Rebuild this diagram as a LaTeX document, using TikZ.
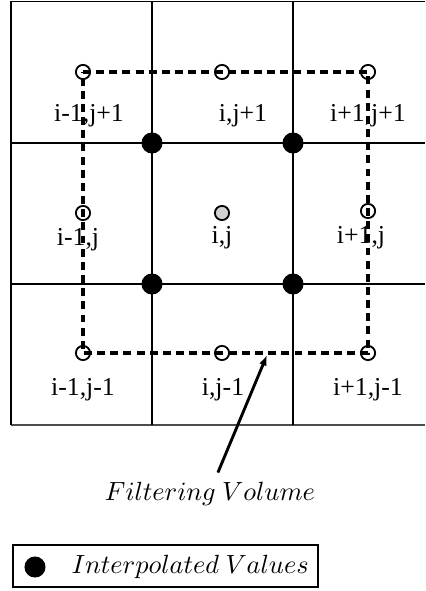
\documentclass[tikz,border=0pt]{standalone}
\usepackage{fontspec}
\setmainfont{Liberation Serif}
\usetikzlibrary{positioning,arrows.meta}

\begin{document}
\begin{tikzpicture}[
    x=0.38pt, y=-0.38pt,
    gridline/.style={line width=0.45pt},
    cellpt/.style={circle, draw, line width=0.7pt, inner sep=0pt, minimum size=5.4pt},
    interp/.style={circle, fill=black, inner sep=0pt, minimum size=8pt},
    lbl/.style={font=\fontsize{9.8}{11}\selectfont, inner sep=0pt},
    filterbox/.style={line width=1.3pt, dash pattern=on 3pt off 2pt},
    legendbox/.style={draw, line width=0.9pt, minimum width=116pt, minimum height=16pt, inner sep=0pt},
    arrow/.style={-{Latex[length=4pt, width=3pt]}, line width=1.1pt}
]
\useasboundingbox (0,0) rectangle (425,591);

% grid
\draw[gridline] (11,1.5) -- (425,1.5);
\draw[gridline] (11,143) -- (425,143);
\draw[gridline] (11,284) -- (425,284);
\draw[gridline, black!70] (11,425) -- (425,425);
\draw[gridline] (11,1.5) -- (11,425);
\draw[gridline] (152,1.5) -- (152,425);
\draw[gridline] (293,1.5) -- (293,425);

% cell centres
\node[cellpt] (nw) at (83,72) {};
\node[cellpt] (n) at (222,72) {};
\node[cellpt] (ne) at (368,72) {};
\node[cellpt] (w) at (83,213) {};
\node[cellpt, fill=black!18] (c) at (222,213) {};
\node[cellpt] (e) at (368,211) {};
\node[cellpt] (sw) at (83,353) {};
\node[cellpt] (s) at (222,353) {};
\node[cellpt] (se) at (368,353) {};

% filtering volume
\draw[filterbox] (nw.center) -- (n.center) -- (ne.center) -- (e.center) -- (se.center)
    -- (s.center) -- (sw.center) -- (w.center) -- cycle;

% interpolated values at the corners
\node[interp] (ip1) at (152,143) {};
\node[interp] (ip2) at (293,143) {};
\node[interp] (ip3) at (152,284) {};
\node[interp] (ip4) at (293,284) {};

% labels
\node[lbl] (lnw) at (89,116) {i-1,j+1};
\node[lbl] (ln) at (243,116) {i,j+1};
\node[lbl] (lne) at (368,116) {i+1,j+1};
\node[lbl] (lw) at (78,240) {i-1,j};
\node[lbl] (lc) at (222,238) {i,j};
\node[lbl] (le) at (361,238) {i+1,j};
\node[lbl] (lsw) at (83,390) {i-1,j-1};
\node[lbl] (ls) at (223,390) {i,j-1};
\node[lbl] (lse) at (368,390) {i+1,j-1};

% pointer
\node[inner sep=0pt] (fvlabel) at (210,494) {$Filtering\ Volume$};
\coordinate (fvtip) at (267,355);
\draw[arrow] ([xshift=3pt, yshift=3.5pt]fvlabel.north) -- (fvtip);

% legend
\node[legendbox] (legend) at (165.5,566) {};
\node[interp] (legdot) at (35,567) {};
\node[inner sep=0pt, right=9.5pt of legdot] (legtxt) {$Interpolated\ Values$};

\end{tikzpicture}
\end{document}
